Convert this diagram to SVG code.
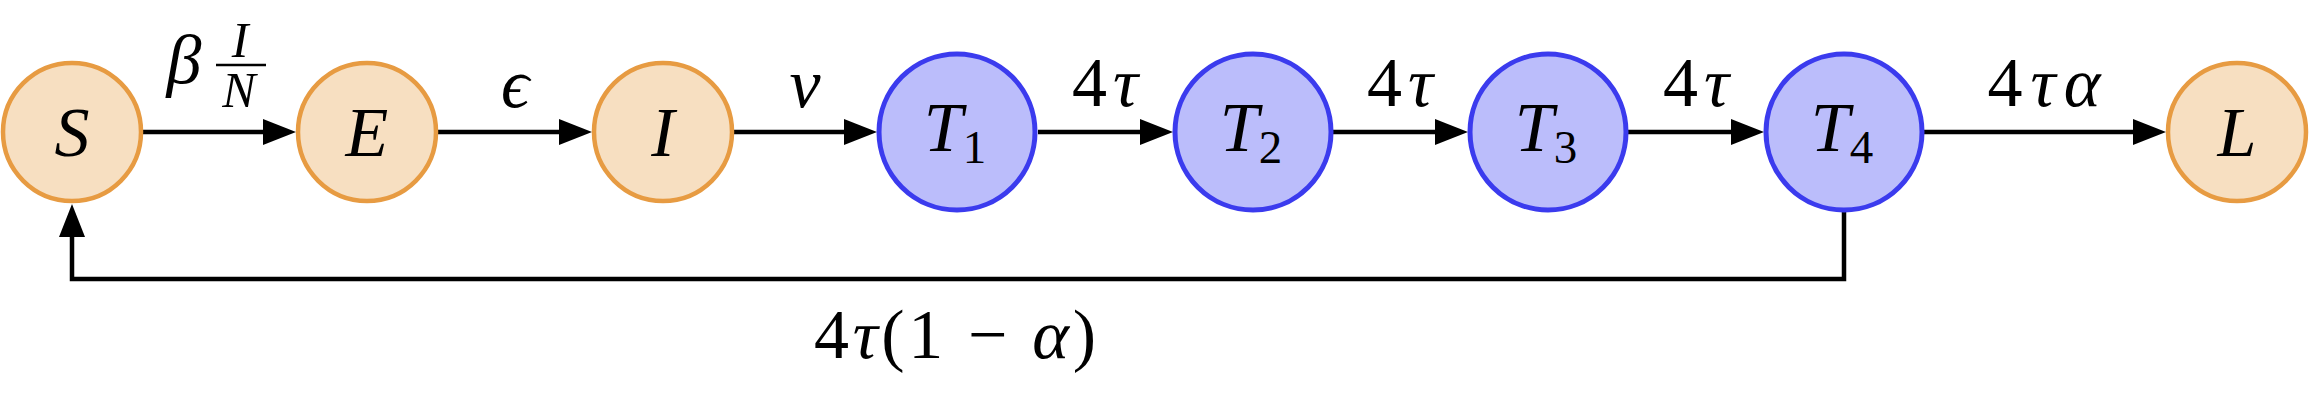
<svg xmlns="http://www.w3.org/2000/svg" width="2309" height="398" viewBox="0 0 2309 398">
<style>
.o{fill:#F7DFC1;stroke:#E79B42;stroke-width:4.5}
.b{fill:#BBBDFB;stroke:#3B3BEE;stroke-width:5}
text{font-family:'Liberation Serif','DejaVu Serif',serif;font-size:70px;fill:#000;text-anchor:middle}
text.f{font-size:50px}
.i{font-style:italic}
.n{font-style:normal}
.c{fill:none;stroke:#000;stroke-width:4.5}
tspan.sub{font-size:47px;font-style:normal}
</style>
<defs>
<marker id="ah" viewBox="0 0 33 26" refX="23" refY="13" markerWidth="33" markerHeight="26" markerUnits="userSpaceOnUse" orient="auto">
<path d="M0,0 L33,13 L0,26 z" fill="#000"/>
</marker>
</defs>
<rect width="2309" height="398" fill="#fff"/>
<g id="connectors">
<path class="c" d="M143,132 H286" marker-end="url(#ah)"/>
<path class="c" d="M438,132 H582" marker-end="url(#ah)"/>
<path class="c" d="M734,132 H867" marker-end="url(#ah)"/>
<path class="c" d="M1038,132 H1163" marker-end="url(#ah)"/>
<path class="c" d="M1333,132 H1458" marker-end="url(#ah)"/>
<path class="c" d="M1628,132 H1754" marker-end="url(#ah)"/>
<path class="c" d="M1924,132 H2156" marker-end="url(#ah)"/>
<path class="c" d="M1844,212 V279 H72 V214" marker-end="url(#ah)"/>
<g id="labels">
<text class="i" x="184" y="83">β</text>
<text class="i f" x="240" y="57">I</text>
<line x1="216" y1="65" x2="266" y2="65" stroke="#000" stroke-width="2.5"/>
<text class="i f" x="239" y="107">N</text>
<text class="i" x="515" y="107">ϵ</text>
<text class="i" x="805" y="107">ν</text>
<text x="1105" y="106" textLength="66" lengthAdjust="spacing"><tspan class="n">4</tspan><tspan class="i">τ</tspan></text>
<text x="1400" y="106" textLength="66" lengthAdjust="spacing"><tspan class="n">4</tspan><tspan class="i">τ</tspan></text>
<text x="1696" y="106" textLength="66" lengthAdjust="spacing"><tspan class="n">4</tspan><tspan class="i">τ</tspan></text>
<text x="2044" y="106" textLength="113" lengthAdjust="spacing"><tspan class="n">4</tspan><tspan class="i">τα</tspan></text>
<text x="955" y="358" textLength="282" lengthAdjust="spacing"><tspan class="n">4</tspan><tspan class="i">τ</tspan><tspan class="n">(1 − </tspan><tspan class="i">α</tspan><tspan class="n">)</tspan></text>
</g>
</g>
<g id="S"><circle class="o" cx="72" cy="132" r="69"/><text class="i" x="72" y="156">S</text></g>
<g id="E"><circle class="o" cx="367" cy="132" r="69"/><text class="i" x="367" y="156">E</text></g>
<g id="I"><circle class="o" cx="663" cy="132" r="69"/><text class="i" x="663" y="156">I</text></g>
<g id="T1"><circle class="b" cx="957" cy="132" r="78"/><text class="i" x="955" y="151">T<tspan class="sub" dy="12">1</tspan></text></g>
<g id="T2"><circle class="b" cx="1253" cy="132" r="78"/><text class="i" x="1251" y="151">T<tspan class="sub" dy="12">2</tspan></text></g>
<g id="T3"><circle class="b" cx="1548" cy="132" r="78"/><text class="i" x="1546" y="151">T<tspan class="sub" dy="12">3</tspan></text></g>
<g id="T4"><circle class="b" cx="1844" cy="132" r="78"/><text class="i" x="1842" y="151">T<tspan class="sub" dy="12">4</tspan></text></g>
<g id="L"><circle class="o" cx="2237" cy="132" r="69"/><text class="i" x="2237" y="156">L</text></g>
</svg>
